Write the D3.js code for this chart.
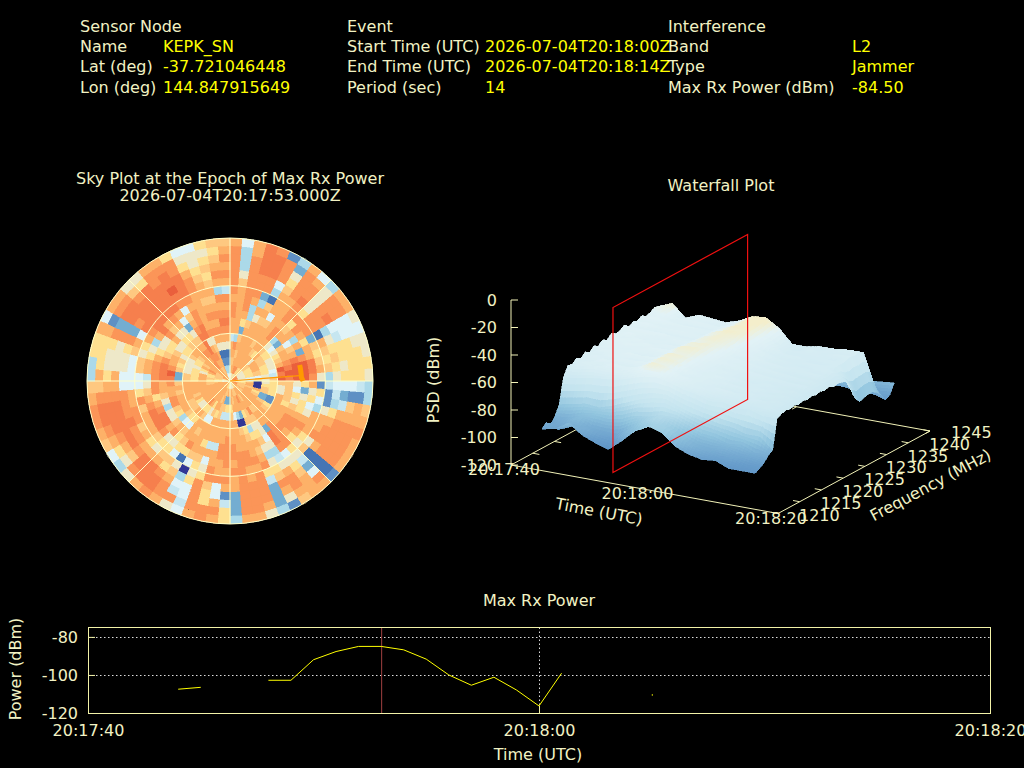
<!DOCTYPE html>
<html>
<head>
<meta charset="utf-8">
<script src="https://d3js.org/d3.v7.min.js"></script>
<style>
html, body { margin: 0; padding: 0; background: #000; }
svg { display: block; }
text { font-family: "DejaVu Sans", sans-serif; font-size: 16px; fill: #f2f2c4; }
.value { fill: #ffff00; }
</style>
</head>
<body>
<svg id="chart" width="1024" height="768"></svg>
<script>
// HEADER
const headerLeft = [['Sensor Node', ''], ['Name', 'KEPK_SN'], ['Lat (deg)', '-37.721046448'], ['Lon (deg)', '144.847915649']];
const headerMiddle = [['Event', ''], ['Start Time (UTC)', '2026-07-04T20:18:00Z'], ['End Time (UTC)', '2026-07-04T20:18:14Z'], ['Period (sec)', '14']];
const headerRight = [['Interference', ''], ['Band', 'L2'], ['Type', 'Jammer'], ['Max Rx Power (dBm)', '-84.50']];

// SKY PLOT: one string per 5 deg azimuth sector (clockwise from north), one letter per 5 deg elevation ring (zenith first)
const skyColors = {
    a: '#ea5f3c', b: '#f67f4d', c: '#fb9558', d: '#fdb168', e: '#fec880', f: '#fee090', g: '#eee8c8',
    h: '#e0f3f8', i: '#c6e6f0', j: '#abd9e9', k: '#74add1', l: '#5f90c4', m: '#4575b4', n: '#313695'
};
const skyBins = [
    'heeddiddccdccccccd', 'hdedcjddddddegjjjh', 'gddedekfdcccccccdd', 'gcdddddejjdcccbbbb',
    'fcddddddgdjkccbbbc', 'gcddddddedemjhcccl', 'fedddeddehdddefgkj', 'gfddeddddddddccccd',
    'eeddfddccdcccbccdh', 'dfegdegjdefcfggggj', 'dgedefhkddcccccccd', 'cgfdefgehjdcccbccd',
    'cgfdegfdedfkmjhhhg', 'cgfdfgeddkdedgihhh', 'bgfefgdcbcdfefffgg', 'cgfefhabaabefefffg',
    'dghhgibaaabdefgfff', 'dgifgeabaacgjgfffg', 'gfengfeegfdlihhhij', 'efdnffgehkgflikllj',
    'dednefgefgfhljiede', 'ceedefdegfhjgfdddd', 'cedfkldfefgdddcccc', 'dedeklddddddd' + 'ccccd',
    'ddddefddcccdcccccd', 'dedddeddccdfgdcccd', 'deddddddcdfgemmmml', 'edddeddcccc' + 'fgikhcd',
    'edddeddkbbchgfeddd', 'fdedcegghgjigdccde', 'fdddeegfegjgfecdgl', 'gecdfejfdedcfikkkj',
    'geddknfeddcdccccdg', 'geddjneddccddccccd', 'gdedhddddccccccccd', 'gddfedddccdcddkkkj',
    'hdkfiddccccdcdliff', 'gdkfidddccddchhdcd', 'fekeidddiddcceffcc', 'fedeedddidhgfccccd',
    'fdedfdddfdefgfhhih', 'edddehddddehnjhicg', 'dddfghdedcfmgedccd', 'ddddfedddefhefcbbc',
    'dddcfdfhefgfedbbbd', 'edddgdfhdcgfgdbbcg', 'edddgeejedcefdcegj', 'ddddfedfgbbddcbdfh',
    'dddddedegbbdecbcde', 'ddddeddcjcbdcbbbcd', 'dddddddcgdceccbbbc', 'ddddddedefdcdcbbbc',
    'ddeddddddcefdccccd', 'hfedddecdcghhhddee', 'hgfdfekbbcihhhdfdj', 'gfedfekabcdehgggfj',
    'gefdfgecbcdehgggff', 'fefgfgfdcdfgefgfff', 'dedfggedefgfdcccdd', 'decdfggefgjdhkkklh',
    'cedefefgfgdcbcbbcd', 'ddddedfgdcbbbbbbcd', 'ddddddefgedbbbbceg', 'ddcdcdefgdcbbbbbfg',
    'ddcccdegkhdbbbbccd', 'dedcbbbcdehcbabbcd', 'dedcdgbbccdcbbbccf', 'edddegcdddddccdfgh',
    'hjlmgdcdcdeddefggh', 'hjlmgdcdcdedefefgf', 'hjlmgdcbcdcjdcdefe', 'hjlmgdcbcdcidcdcde'
];
const skySpokes = [0, 45, 90, 135, 180, 225, 270, 315];
const skyRings = [60, 30, 0];
const trackAz = [0, 85.6];
const trackEl = [90, 46];
const markerAz = [77, 80, 84, 87, 90];
const markerEl = [45, 45, 45, 45, 44];

// WATERFALL: PSD in dBm, one row per time, one column per frequency
const psdTimes = [2, 4, 6, 8, 10, 12, 14, 16, 18, 20, 22, 24, 26, 28, 30, 32, 34];
const psdFreqs = d3.range(1214, 1247);
const psdValues = [
    [-99,-96,-99,-95,-88,-70,-63,-64,-61,-63,-60,-62,-59,-61,-58,-60,-57,-59,-58,-56,-59,-57,-58,-56,-58,-57,-55,-56,-72,-88,-96,-99,-97],
    [-97,-99,-95,-94,-86,-69,-62,-60,-62,-59,-61,-58,-60,-58,-59,-57,-59,-56,-58,-57,-59,-56,-58,-56,-57,-55,-54,-52,-68,-87,-95,-98,-96],
    [-91,-95,-91,-91,-84,-67,-60,-62,-58,-61,-58,-60,-58,-60,-57,-59,-57,-60,-58,-57,-60,-58,-59,-57,-59,-58,-60,-61,-71,-88,-96,-99,-95],
    [-98,-95,-96,-89,-85,-66,-61,-58,-61,-58,-60,-57,-60,-58,-59,-57,-60,-58,-60,-57,-60,-58,-59,-58,-60,-58,-59,-57,-70,-87,-95,-98,-96],
    [-102,-98,-97,-90,-82,-65,-60,-59,-61,-58,-60,-58,-61,-59,-57,-60,-58,-60,-58,-59,-60,-58,-59,-58,-60,-58,-60,-58,-69,-86,-95,-99,-96],
    [-105,-99,-97,-88,-78,-62,-58,-57,-60,-57,-59,-57,-60,-58,-57,-59,-58,-60,-58,-59,-60,-59,-60,-59,-60,-59,-61,-59,-68,-86,-94,-98,-95],
    [-97,-92,-91,-84,-74,-59,-54,-52,-54,-52,-53,-52,-54,-53,-52,-54,-53,-55,-54,-54,-55,-54,-56,-55,-57,-56,-57,-56,-66,-85,-94,-97,-94],
    [-88,-88,-84,-83,-71,-58,-55,-54,-55,-53,-54,-53,-54,-53,-52,-53,-52,-53,-52,-52,-52,-51,-52,-51,-52,-51,-52,-51,-64,-84,-93,-96,-93],
    [-83,-84,-80,-80,-70,-60,-59,-58,-60,-58,-59,-58,-58,-57,-57,-56,-56,-55,-54,-54,-53,-52,-52,-51,-51,-50,-49,-50,-63,-83,-92,-96,-93],
    [-86,-84,-85,-80,-74,-63,-61,-60,-61,-60,-61,-60,-60,-61,-59,-60,-59,-60,-58,-59,-58,-57,-57,-56,-56,-55,-54,-56,-66,-84,-93,-96,-94],
    [-94,-90,-90,-84,-77,-65,-62,-63,-61,-62,-60,-62,-61,-62,-60,-61,-60,-62,-60,-61,-60,-62,-60,-61,-62,-61,-63,-66,-72,-86,-94,-97,-95],
    [-98,-94,-94,-88,-79,-68,-64,-62,-65,-62,-64,-62,-64,-63,-62,-64,-62,-63,-62,-64,-63,-64,-63,-65,-64,-66,-65,-66,-70,-88,-95,-98,-95],
    [-100,-96,-95,-89,-81,-67,-66,-63,-66,-63,-65,-64,-66,-64,-63,-65,-63,-65,-63,-65,-64,-65,-63,-65,-64,-63,-65,-64,-68,-89,-96,-99,-95],
    [-99,-99,-94,-92,-82,-70,-65,-66,-64,-66,-64,-66,-64,-66,-64,-66,-64,-66,-65,-64,-66,-64,-66,-65,-64,-65,-64,-64,-66,-88,-97,-99,-94],
    [-103,-98,-97,-91,-85,-69,-68,-65,-68,-65,-67,-65,-67,-66,-65,-67,-65,-67,-64,-66,-65,-64,-66,-64,-66,-63,-65,-63,-65,-87,-98,-100,-94],
    [-103,-102,-97,-95,-85,-72,-67,-68,-66,-68,-66,-68,-66,-68,-65,-67,-66,-67,-65,-66,-64,-66,-64,-65,-64,-63,-64,-63,-65,-88,-98,-100,-93],
    [-103,-101,-99,-95,-93,-72,-70,-69,-70,-69,-70,-69,-70,-69,-70,-69,-70,-69,-71,-70,-71,-72,-80,-88,-92,-91,-90,-90,-92,-96,-101,-99,-92]
];
const psdStops = [-112, -100, -88, -76, -56, -51];
const psdColors = ['#4f86bd', '#6a9fcc', '#93c6df', '#c4e4ef', '#e2f2f6', '#f4eecb'];
const zTicks = [0, -20, -40, -60, -80, -100, -120];
const freqTicks = [1210, 1215, 1220, 1225, 1230, 1235, 1240, 1245];
const timeTicks = [0, 20, 40];
const timeLabels = ['20:17:40', '20:18:00', '20:18:20'];
const epochTime = 13;
const planeFreqs = [1213.5, 1244.5];

// MAX RX POWER: seconds after 20:17:40, null where no sample
const powerTimes = d3.range(0, 41);
const powerValues = [null, null, null, null, -107.5, -106.5, null, null, -102.8, -102.8, -92, -87.7, -85, -85, -86.8, -91.7, -100, -105.4, -101.2, -107.9, -116.3, -99.1, null, null, null, -110.2, null, null, null, null, null, null, null, null, null, null, null, null, null, null, null];
const powerTicks = [-80, -100, -120];

const svg = d3.select('#chart');

function drawHeader (rows, x1, x2) {
    const g = svg.append('g');
    rows.forEach((row, i) => {
        const y = 32 + i * 20.2;
        g.append('text').attr('x', x1).attr('y', y).text(row[0]);
        g.append('text').attr('class', 'value').attr('x', x2).attr('y', y).text(row[1]);
    });
}
drawHeader(headerLeft, 80, 163);
drawHeader(headerMiddle, 347, 485);
drawHeader(headerRight, 668, 852);

// SKY PLOT

function drawSky () {
    const g = svg.append('g').attr('transform', 'translate(230,381)');
    const radius = d3.scaleLinear().domain([90, 0]).range([0, 143]);
    const angle = d3.scaleLinear().domain([0, 360]).range([0, 2 * Math.PI]);
    const cell = d3.arc();
    const cells = [];
    skyBins.forEach((bin, s) => {
        bin.split('').forEach((level, i) => cells.push({s, i, level}));
    });
    g.selectAll('.skyCell')
        .data(cells)
        .enter()
        .append('path')
        .attr('class', 'skyCell')
        .attr('shape-rendering', 'crispEdges')
        .attr('fill', d => skyColors[d.level])
        .attr('stroke', d => skyColors[d.level])
        .attr('stroke-width', 0.4)
        .attr('d', d => cell({
            innerRadius: radius(90 - d.i * 5),
            outerRadius: radius(90 - (d.i + 1) * 5),
            startAngle: angle(d.s * 5),
            endAngle: angle((d.s + 1) * 5)
        }));
    const polar = (az, el) => [
        radius(el) * Math.sin(angle(az)),
        -radius(el) * Math.cos(angle(az))
    ];
    g.selectAll('.skyRing')
        .data(skyRings)
        .enter()
        .append('circle')
        .attr('class', 'skyRing')
        .attr('r', d => radius(d))
        .attr('fill', 'none')
        .attr('stroke', '#ffffc8');
    g.selectAll('.skySpoke')
        .data(skySpokes)
        .enter()
        .append('line')
        .attr('class', 'skySpoke')
        .attr('x2', d => polar(d, 0)[0])
        .attr('y2', d => polar(d, 0)[1])
        .attr('stroke', '#ffffc8');
    const track = d3.line();
    g.append('path')
        .attr('d', track(trackAz.map((az, i) => polar(az, trackEl[i]))))
        .attr('fill', 'none')
        .attr('stroke', '#ff9900')
        .attr('stroke-width', 1.2);
    g.append('path')
        .attr('d', track(markerAz.map((az, i) => polar(az, markerEl[i]))))
        .attr('fill', 'none')
        .attr('stroke', '#ff9900')
        .attr('stroke-width', 5);
    svg.append('text').attr('x', 230).attr('y', 183.5).attr('text-anchor', 'middle').text('Sky Plot at the Epoch of Max Rx Power');
    svg.append('text').attr('x', 230).attr('y', 201).attr('text-anchor', 'middle').text('2026-07-04T20:17:53.000Z');
}
drawSky();

// WATERFALL

const tX = d3.scaleLinear().domain([0, 40]).range([0, 267]);
const tY = d3.scaleLinear().domain([0, 40]).range([0, 48.5]);
const fX = d3.scaleLinear().domain([1210, 1245]).range([0, 152]);
const fY = d3.scaleLinear().domain([1210, 1245]).range([0, -82.5]);
const zY = d3.scaleLinear().domain([-120, 0]).range([0, -165]);
const project = (t, f, z) => [511 + tX(t) + fX(f), 465 + tY(t) + fY(f) + zY(z)];

function drawWaterfall () {
    const g = svg.append('g');
    const color = d3.scaleLinear().domain(psdStops).range(psdColors).clamp(true);
    const axisLine = (from, to) => g.append('line')
        .attr('x1', from[0]).attr('y1', from[1])
        .attr('x2', to[0]).attr('y2', to[1])
        .attr('stroke', '#f2f2b8');

    // base plane and ticks go under the surface
    axisLine(project(0, 1210, -120), project(40, 1210, -120));
    axisLine(project(40, 1210, -120), project(40, 1245, -120));
    axisLine(project(40, 1245, -120), project(0, 1245, -120));
    axisLine(project(0, 1245, -120), project(0, 1210, -120));
    freqTicks.forEach(f => {
        axisLine(project(40, f, -120), project(39, f, -120));
        axisLine(project(0, f, -120), project(1, f, -120));
    });
    timeTicks.forEach(t => {
        axisLine(project(t, 1245, -120), project(t, 1244, -120));
    });

    // surface, far corner first, each cell split up so the colour runs smoothly over it
    const steps = 4;
    const patches = [];
    psdTimes.slice(0, -1).forEach((t0, r) => {
        const t1 = psdTimes[r + 1];
        for (let c = psdFreqs.length - 2; c >= 0; c--) {
            const f0 = psdFreqs[c];
            const f1 = psdFreqs[c + 1];
            const z = (u, v) => d3.interpolateNumber(
                d3.interpolateNumber(psdValues[r][c], psdValues[r][c + 1])(v),
                d3.interpolateNumber(psdValues[r + 1][c], psdValues[r + 1][c + 1])(v)
            )(u);
            for (let a = 0; a < steps; a++) {
                for (let b = steps - 1; b >= 0; b--) {
                    const u0 = a / steps, u1 = (a + 1) / steps, v0 = b / steps, v1 = (b + 1) / steps;
                    const t = u => t0 + (t1 - t0) * u;
                    const f = v => f0 + (f1 - f0) * v;
                    patches.push({
                        points: [
                            project(t(u0), f(v0), z(u0, v0)),
                            project(t(u0), f(v1), z(u0, v1)),
                            project(t(u1), f(v1), z(u1, v1)),
                            project(t(u1), f(v0), z(u1, v0))
                        ],
                        value: (z(u0, v0) + z(u1, v1)) / 2
                    });
                }
            }
        }
    });
    g.selectAll('.patch')
        .data(patches)
        .enter()
        .append('polygon')
        .attr('class', 'patch')
        .attr('shape-rendering', 'crispEdges')
        .attr('points', d => d.points.join(' '))
        .attr('fill', d => color(d.value))
        .attr('stroke', d => color(d.value))
        .attr('stroke-width', 0.6);

    // epoch plane
    const plane = [
        project(epochTime, planeFreqs[0], -120),
        project(epochTime, planeFreqs[1], -120),
        project(epochTime, planeFreqs[1], 0),
        project(epochTime, planeFreqs[0], 0)
    ];
    g.append('polygon')
        .attr('points', plane.join(' '))
        .attr('fill', 'none')
        .attr('stroke', '#f01010')
        .attr('stroke-width', 1.2);

    // z axis
    axisLine(project(0, 1210, -120), project(0, 1210, 0));
    zTicks.forEach(z => {
        const p = project(0, 1210, z);
        axisLine(p, [p[0] + 7, p[1]]);
        g.append('text').attr('x', p[0] - 14).attr('y', p[1] + 5.5).attr('text-anchor', 'end').text(z);
    });
    timeTicks.forEach((t, i) => {
        const p = project(t, 1210, -120);
        g.append('text').attr('x', p[0] - 7).attr('y', p[1] + 10).attr('text-anchor', 'middle').text(timeLabels[i]);
    });
    freqTicks.forEach(f => {
        const p = project(40, f, -120);
        g.append('text').attr('x', p[0] + 21).attr('y', p[1] + 7).text(f);
    });
    g.append('text').attr('transform', 'translate(598,517) rotate(10.6)').attr('text-anchor', 'middle').text('Time (UTC)');
    g.append('text').attr('transform', 'translate(933,490) rotate(-28)').attr('text-anchor', 'middle').text('Frequency (MHz)');
    g.append('text').attr('transform', 'translate(438.5,380) rotate(-90)').attr('text-anchor', 'middle').text('PSD (dBm)');
    svg.append('text').attr('x', 721).attr('y', 190.5).attr('text-anchor', 'middle').text('Waterfall Plot');
}
drawWaterfall();

// MAX RX POWER

function drawPower () {
    const g = svg.append('g');
    const x = d3.scaleLinear().domain([0, 40]).range([88, 990]);
    const y = d3.scaleLinear().domain([-120, -74.8]).range([713, 627]);
    g.selectAll('.grid')
        .data(powerTicks.slice(0, 2))
        .enter()
        .append('line')
        .attr('class', 'grid')
        .attr('x1', x(0)).attr('x2', x(40))
        .attr('y1', d => Math.round(y(d)) + 0.5).attr('y2', d => Math.round(y(d)) + 0.5)
        .attr('stroke', '#ddd')
        .attr('stroke-dasharray', '1.5,2.5');
    g.append('line')
        .attr('x1', x(20) + 0.5).attr('x2', x(20) + 0.5)
        .attr('y1', y(-120)).attr('y2', y(-74.8))
        .attr('stroke', '#ddd')
        .attr('stroke-dasharray', '1.5,2.5');
    g.append('line')
        .attr('x1', x(epochTime) + 0.5).attr('x2', x(epochTime) + 0.5)
        .attr('y1', y(-120)).attr('y2', y(-74.8))
        .attr('stroke', '#a04040');

    const line = d3.line()
        .defined(d => d[1] !== null)
        .x(d => x(d[0]))
        .y(d => y(d[1]));
    const samples = powerTimes.map((t, i) => [t, powerValues[i]]);
    g.append('path')
        .attr('d', line(samples))
        .attr('fill', 'none')
        .attr('stroke', '#ffff00');
    // a lone sample has no segment to draw
    g.selectAll('.lone')
        .data(samples.filter((d, i) => d[1] !== null && powerValues[i - 1] === null && powerValues[i + 1] === null))
        .enter()
        .append('rect')
        .attr('class', 'lone')
        .attr('x', d => x(d[0]))
        .attr('y', d => y(d[1]))
        .attr('width', 1.2)
        .attr('height', 1.2)
        .attr('fill', '#ffff00');

    g.append('rect')
        .attr('x', x(0) + 0.5).attr('y', y(-74.8) + 0.5)
        .attr('width', x(40) - x(0)).attr('height', y(-120) - y(-74.8))
        .attr('fill', 'none')
        .attr('stroke', '#f2f2a8');

    const xAxis = d3.axisBottom(x).tickValues(timeTicks).tickFormat((d, i) => timeLabels[i]).tickSizeInner(-7).tickSizeOuter(0).tickPadding(12);
    const yAxis = d3.axisLeft(y).tickValues(powerTicks).tickFormat(d => String(d)).tickSizeInner(-7).tickSizeOuter(0).tickPadding(10);
    const gx = g.append('g').attr('transform', 'translate(0,713)').call(xAxis);
    const gy = g.append('g').attr('transform', 'translate(88,0)').call(yAxis);
    [gx, gy].forEach(axis => {
        axis.select('.domain').remove();
        axis.selectAll('line').attr('stroke', '#f2f2a8');
        axis.selectAll('text').style('font-family', '"DejaVu Sans", sans-serif').style('font-size', '16px').attr('fill', '#f2f2c4');
    });

    svg.append('text').attr('x', 539).attr('y', 605.5).attr('text-anchor', 'middle').text('Max Rx Power');
    svg.append('text').attr('x', 538).attr('y', 760).attr('text-anchor', 'middle').text('Time (UTC)');
    svg.append('text').attr('transform', 'translate(20.5,669) rotate(-90)').attr('text-anchor', 'middle').text('Power (dBm)');
}
drawPower();
</script>
</body>
</html>
